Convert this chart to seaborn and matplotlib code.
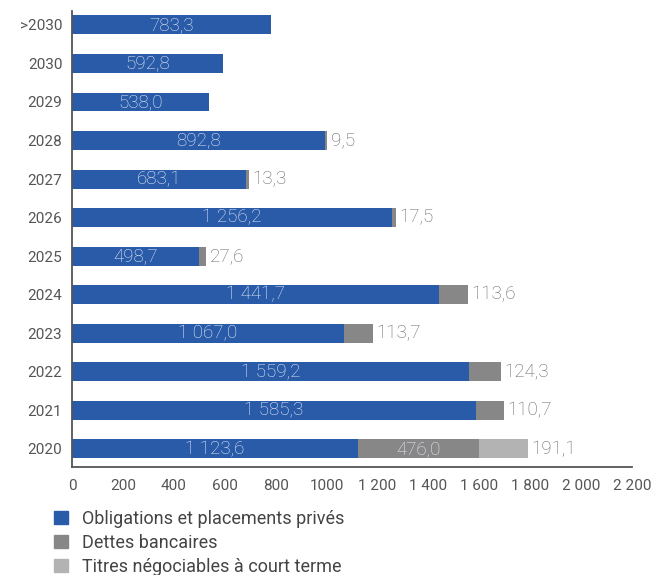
import pandas as pd
import seaborn as sns
import matplotlib.pyplot as plt
from matplotlib.patches import Patch

# Data (top row first)
years = [">2030", "2030", "2029", "2028", "2027", "2026", "2025",
         "2024", "2023", "2022", "2021", "2020"]
obligations = [783.3, 592.8, 538.0, 992.8, 683.1, 1256.2, 498.7,
               1441.7, 1067.0, 1559.2, 1585.3, 1123.6]
dettes = [0, 0, 0, 9.5, 13.3, 17.5, 27.6, 113.6, 113.7, 124.3, 110.7, 476.0]
titres = [0, 0, 0, 0, 0, 0, 0, 0, 0, 0, 0, 191.1]
# bar labels as printed on the source chart
lab_oblig = ["783,3", "592,8", "538,0", "892,8", "683,1", "1 256,2", "498,7",
             "1 441,7", "1 067,0", "1 559,2", "1 585,3", "1 123,6"]
lab_dettes = ["", "", "", "9,5", "13,3", "17,5", "27,6",
              "113,6", "113,7", "124,3", "110,7", "476,0"]
lab_titres = [""] * 11 + ["191,1"]
series_names = ["Obligations et placements privés", "Dettes bancaires",
                "Titres négociables à court terme"]
xticks = [0, 200, 400, 600, 800, 1000, 1200, 1400, 1600, 1800, 2000, 2200]
xticklabels = ["0", "200", "400", "600", "800", "1000", "1 200", "1 400",
               "1 600", "1 800", "2 000", "2 200"]

df = pd.DataFrame({"year": years, "oblig": obligations,
                   "dettes": dettes, "titres": titres})
df["s2"] = df["oblig"] + df["dettes"]
df["s3"] = df["s2"] + df["titres"]

blue, grey, lgrey = "#2a5ba8", "#878787", "#b3b3b3"

sns.set_theme(style="white")
plt.rcParams["font.family"] = ["Roboto", "DejaVu Sans"]

fig = plt.figure(figsize=(6.53, 5.75), dpi=100)
ax = fig.add_axes([72 / 653, 1 - 467 / 575, 560 / 653, 456 / 575])

# stacked bars: draw cumulative totals back to front
for col, c in [("s3", lgrey), ("s2", grey), ("oblig", blue)]:
    sns.barplot(data=df, y="year", x=col, order=years, color=c,
                saturation=1, width=0.49, ax=ax, orient="h", linewidth=0)

inside = "#e6ecf6"
outside = "#666666"
fs = 13.5
for i, row in df.iterrows():
    ax.text(row["oblig"] / 2, i, lab_oblig[i], ha="center", va="center",
            color=inside, fontsize=fs, fontweight="light")
    if row["titres"] > 0:
        ax.text(row["oblig"] + row["dettes"] / 2, i, lab_dettes[i],
                ha="center", va="center", color=inside, fontsize=fs,
                fontweight="light")
        ax.annotate(lab_titres[i], (row["s3"], i), xytext=(2.5, 0),
                    textcoords="offset points", ha="left", va="center",
                    color=outside, fontsize=fs, fontweight="light")
    elif row["dettes"] > 0:
        ax.annotate(lab_dettes[i], (row["s2"], i), xytext=(2.5, 0),
                    textcoords="offset points", ha="left", va="center",
                    color=outside, fontsize=fs, fontweight="light")

ax.set_xlim(0, 2200)
ax.set_ylim(11.47, -0.36)
ax.set_xticks(xticks)
ax.set_xticklabels(xticklabels)
ax.set_xlabel("")
ax.set_ylabel("")
ax.tick_params(axis="both", length=0, labelsize=11, colors="#555555")
ax.tick_params(axis="x", pad=9)
ax.tick_params(axis="y", pad=7)
for s in ["top", "right"]:
    ax.spines[s].set_visible(False)
for s in ["left", "bottom"]:
    ax.spines[s].set_color("#555555")
    ax.spines[s].set_linewidth(1.3)

handles = [Patch(color=c) for c in (blue, grey, lgrey)]
fig.legend(handles, series_names, loc="upper left",
           bbox_to_anchor=(54 / 653, 1 - 510 / 575), frameon=False,
           fontsize=13, labelcolor="#444444", handlelength=0.75,
           handleheight=0.75, handletextpad=0.8, labelspacing=0.33,
           borderpad=0, borderaxespad=0)

fig.savefig("out.png", dpi=100)
